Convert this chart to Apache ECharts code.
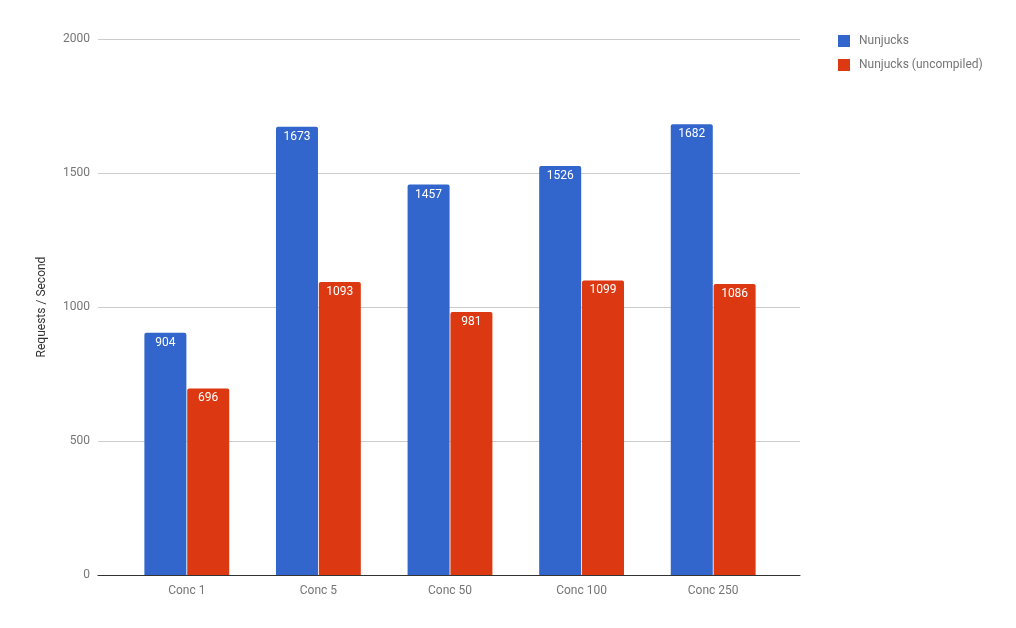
<!DOCTYPE html>
<html>
<head>
<meta charset="utf-8">
<script src="https://cdn.jsdelivr.net/npm/echarts@6/dist/echarts.min.js"></script>
<style>
  html, body { margin: 0; padding: 0; background: #fff; }
  #chart { width: 1016px; height: 628px; }
</style>
</head>
<body>
<div id="chart"></div>
<script>
const categories = ['Conc 1', 'Conc 5', 'Conc 50', 'Conc 100', 'Conc 250'];
const compiled = [904, 1673, 1457, 1526, 1682];
const uncompiled = [696, 1093, 981, 1099, 1086];
const seriesNames = ['Nunjucks', 'Nunjucks (uncompiled)'];
const yTicks = { min: 0, max: 2000, interval: 500 };

const FONT = 'Roboto, sans-serif';
const TEXT = '#757575';

const chart = echarts.init(document.getElementById('chart'), null, { renderer: 'canvas' });

const barLabel = {
  show: true,
  position: 'insideTop',
  distance: 4,
  color: '#fff',
  fontSize: 12,
  fontFamily: FONT,
};

chart.setOption({
  animation: false,
  color: ['#3366cc', '#dc3912'],
  legend: {
    orient: 'vertical',
    left: 833,
    top: 30,
    itemWidth: 12,
    itemHeight: 12,
    itemGap: 12,
    icon: 'rect',
    textStyle: { color: TEXT, fontSize: 12, fontFamily: FONT, padding: [0, 0, 0, 4] },
    data: seriesNames,
  },
  grid: [
    // grid lines span the full plot area
    { left: 98, right: 216, top: 39, bottom: 53 },
    // bars sit in a slightly narrower area
    { left: 121, right: 237, top: 39, bottom: 53 },
  ],
  xAxis: [
    {
      gridIndex: 0,
      type: 'value',
      min: 0,
      max: 1,
      show: true,
      axisLabel: { show: false },
      axisTick: { show: false },
      splitLine: { show: false },
      axisLine: { show: true, lineStyle: { color: '#333', width: 1 } },
    },
    {
      gridIndex: 1,
      type: 'category',
      data: categories,
      axisLine: { show: false },
      axisTick: { show: false },
      axisLabel: { color: TEXT, fontSize: 12, fontFamily: FONT, margin: 10 },
    },
  ],
  yAxis: [
    {
      gridIndex: 0,
      type: 'value',
      min: yTicks.min,
      max: yTicks.max,
      interval: yTicks.interval,
      name: 'Requests / Second',
      nameLocation: 'middle',
      nameGap: 50,
      nameTextStyle: { color: '#333', fontSize: 12, fontFamily: FONT },
      axisLine: { show: false },
      axisTick: { show: false },
      axisLabel: { color: TEXT, fontSize: 12, fontFamily: FONT, margin: 8, formatter: (v) => String(v) },
      splitLine: { lineStyle: { color: '#cccccc', width: 1 } },
    },
    {
      gridIndex: 1,
      type: 'value',
      min: yTicks.min,
      max: yTicks.max,
      show: false,
      splitLine: { show: false },
    },
  ],
  series: [
    {
      name: seriesNames[0],
      type: 'bar',
      xAxisIndex: 1,
      yAxisIndex: 1,
      data: compiled,
      barWidth: 42,
      barGap: '2%',
      itemStyle: { borderRadius: [2, 2, 0, 0] },
      label: barLabel,
      z: 3,
    },
    {
      name: seriesNames[1],
      type: 'bar',
      xAxisIndex: 1,
      yAxisIndex: 1,
      data: uncompiled,
      barWidth: 42,
      barGap: '2%',
      itemStyle: { borderRadius: [2, 2, 0, 0] },
      label: barLabel,
      z: 3,
    },
  ],
});
</script>
</body>
</html>
